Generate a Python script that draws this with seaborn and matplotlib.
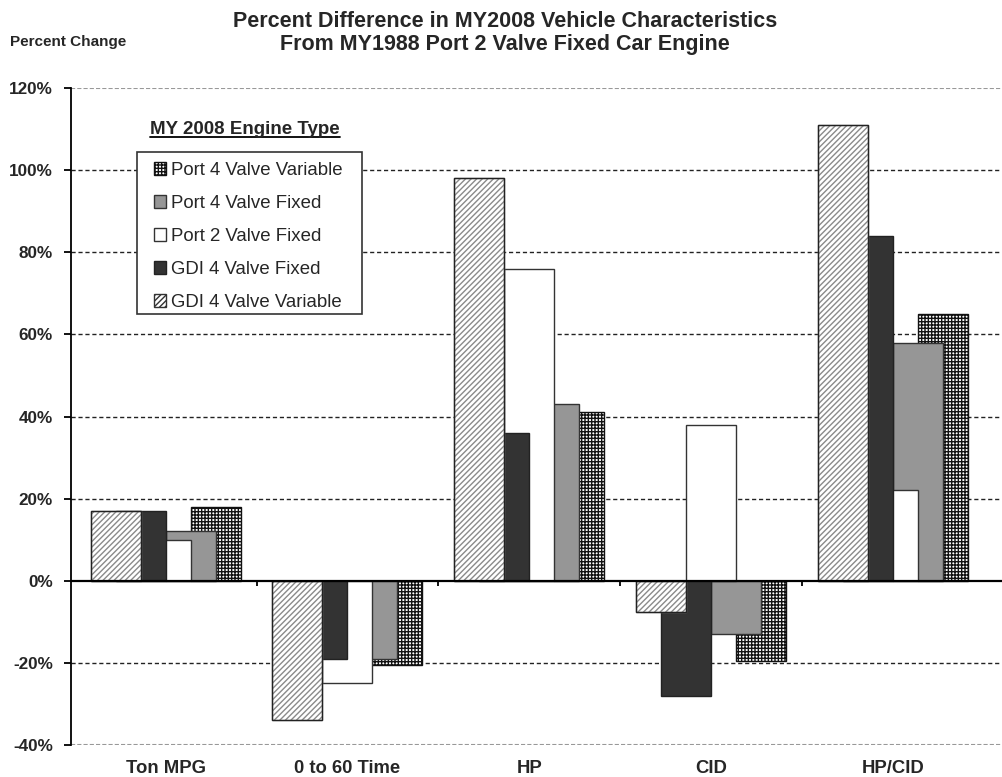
# ==========================================================
# PERCENT DIFFERENCE IN MY2008 VEHICLE CHARACTERISTICS
# overlapping grouped bars (Excel style)
# ==========================================================

import numpy as np
import pandas as pd
import matplotlib
matplotlib.use("Agg")
import matplotlib.pyplot as plt
import seaborn as sns
from matplotlib.patches import Patch, Rectangle

# ==========================================================
# DATA
# ==========================================================

categories = ["Ton MPG", "0 to 60 Time", "HP", "CID", "HP/CID"]

gdi_4v_variable = [17, -34, 98, -7.5, 111]
gdi_4v_fixed = [17, -19, 36, -28, 84]
port_2v_fixed = [10, -25, 76, 38, 22]
port_4v_fixed = [12, -19, 43, -13, 58]
port_4v_variable = [18, -20.5, 41, -19.5, 65]

series_names = [
    "Port 4 Valve Variable",
    "Port 4 Valve Fixed",
    "Port 2 Valve Fixed",
    "GDI 4 Valve Fixed",
    "GDI 4 Valve Variable",
]

y_ticks = [-40, -20, 0, 20, 40, 60, 80, 100, 120]

# ==========================================================
# STYLE
# ==========================================================

sns.set_theme(style="white")
plt.rcParams["font.family"] = ["Liberation Sans", "DejaVu Sans"]
plt.rcParams["hatch.linewidth"] = 1.0

# name -> (facecolor, edgecolor, hatch, slot in cluster)
styles = {
    "Port 4 Valve Variable": ("white", "#111111", "+++++", 2),
    "Port 4 Valve Fixed": ("#969696", "#333333", None, 1),
    "Port 2 Valve Fixed": ("white", "#333333", None, 0),
    "GDI 4 Valve Fixed": ("#333333", "#222222", None, -1),
    "GDI 4 Valve Variable": ("white", "#8a8a8a", "//////", -2),
}

values = {
    "Port 4 Valve Variable": port_4v_variable,
    "Port 4 Valve Fixed": port_4v_fixed,
    "Port 2 Valve Fixed": port_2v_fixed,
    "GDI 4 Valve Fixed": gdi_4v_fixed,
    "GDI 4 Valve Variable": gdi_4v_variable,
}

bar_width = 0.275
step = bar_width / 2

# ==========================================================
# FIGURE
# ==========================================================

fig = plt.figure(figsize=(10.02, 7.77), dpi=100)
ax = fig.add_axes([0.0709, 0.0412, 0.9291, 0.8455])

# back to front: right-most bar behind, left-most bar in front
for z, name in enumerate(series_names):
    face, edge, hatch, slot = styles[name]
    df = pd.DataFrame({
        "pos": np.arange(len(categories)) + slot * step,
        "val": values[name],
    })
    sns.barplot(
        data=df, x="pos", y="val",
        native_scale=True,
        width=bar_width,
        color=face,
        saturation=1,
        edgecolor=edge,
        linewidth=1.0,
        hatch=hatch,
        errorbar=None,
        zorder=1.1 + z * 0.1,
        ax=ax,
    )
    if hatch == "//////":
        # dark outline over the light hatch
        sns.barplot(
            data=df, x="pos", y="val",
            native_scale=True,
            width=bar_width,
            color="#222222",
            fill=False,
            linewidth=1.0,
            errorbar=None,
            zorder=1.15 + z * 0.1,
            ax=ax,
        )

# ==========================================================
# GRID / AXES
# ==========================================================

for yv in y_ticks:
    if yv == 0:
        ax.axhline(0, color="black", linewidth=1.6, zorder=3)
    elif yv in (120, -40):
        ax.axhline(yv, color="#999999", linewidth=1.5,
                   linestyle=(0, (2, 1)), zorder=0.5)
    else:
        ax.axhline(yv, color="#222222", linewidth=1.0,
                   linestyle=(0, (3, 2)), zorder=0.5)

# category boundary ticks on the zero line
ax.vlines([0.5, 1.5, 2.5, 3.5], -1.3, 0, color="black",
          linewidth=1.3, zorder=3)

ax.set_xlim(-0.52, 4.6)
ax.set_ylim(-40, 120)

ax.set_xticks(range(len(categories)))
ax.set_xticklabels(categories, fontsize=13.3, fontweight="bold")
ax.tick_params(axis="x", length=0, pad=11)

ax.set_yticks(y_ticks)
ax.set_yticklabels([f"{v}%" for v in y_ticks], fontsize=12.3, fontweight="bold")
ax.tick_params(axis="y", direction="out", length=5, width=1.3,
               left=True, color="black", pad=8)

ax.set_xlabel("")
ax.set_ylabel("")

for side in ["top", "right", "bottom"]:
    ax.spines[side].set_visible(False)
ax.spines["left"].set_color("black")
ax.spines["left"].set_linewidth(1.3)

# ==========================================================
# LEGEND
# ==========================================================

handles = []
for name in series_names:
    face, edge, hatch, slot = styles[name]
    if name == "GDI 4 Valve Variable":
        edge = "#333333"
    handles.append(Patch(facecolor=face, edgecolor=edge, hatch=hatch,
                         linewidth=1.0, label=name))

# legend box drawn separately so the padding can differ per side
ax.add_patch(Rectangle((137 / 1002, 1 - 314 / 777), 225 / 1002, 162 / 777,
                       transform=fig.transFigure, facecolor="white",
                       edgecolor="#333333", linewidth=1.2, zorder=4))

leg = ax.legend(
    handles=handles,
    loc="upper left",
    bbox_to_anchor=(154 / 1002, 1 - 162 / 777),
    bbox_transform=fig.transFigure,
    borderaxespad=0,
    borderpad=0,
    fontsize=13.4,
    frameon=False,
    handlelength=0.65,
    handleheight=0.65,
    handletextpad=0.25,
    labelspacing=0.86,
)
leg.set_zorder(5)

# legend heading, bold + underlined
heading = fig.text(245 / 1002, 1 - 130 / 777, "MY 2008 Engine Type",
                   ha="center", va="center", fontsize=13.5, fontweight="bold")
fig.canvas.draw()
bb = heading.get_window_extent(renderer=fig.canvas.get_renderer())
bb = bb.transformed(fig.transFigure.inverted())
fig.add_artist(plt.Line2D([bb.x0, bb.x1], [bb.y0 + 0.002, bb.y0 + 0.002],
                          transform=fig.transFigure, color="black",
                          linewidth=1.3))

# ==========================================================
# TITLES
# ==========================================================

fig.text(0.504, 1 - 11 / 777,
         "Percent Difference in MY2008 Vehicle Characteristics\n"
         "From MY1988 Port 2 Valve Fixed Car Engine",
         ha="center", va="top", fontsize=15.5, fontweight="bold",
         linespacing=1.12)

fig.text(10 / 1002, 1 - 42 / 777, "Percent Change",
         ha="left", va="center", fontsize=11, fontweight="bold")

fig.savefig("out.png", dpi=100)
